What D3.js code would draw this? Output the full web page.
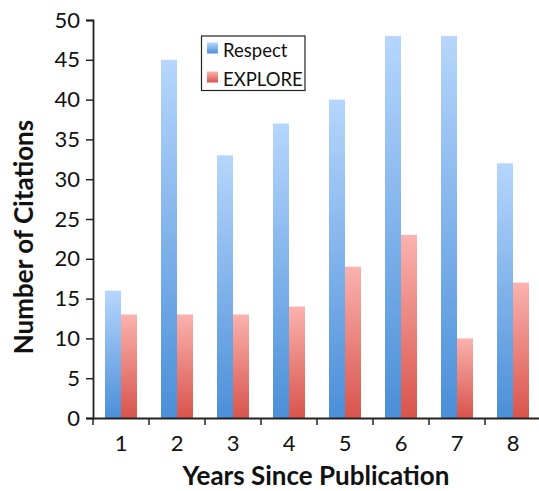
<!DOCTYPE html>
<html><head><meta charset="utf-8">
<script src="https://cdn.jsdelivr.net/npm/d3@7"></script>
<style>body{margin:0;background:#fff}svg{display:block}</style>
</head><body>
<script>
const categories = ["1","2","3","4","5","6","7","8"];
const seriesNames = ["Respect","EXPLORE"];
const respect = [16,45,33,37,40,48,48,32];
const explore = [13,13,13,14,19,23,10,17];
const yTicks = [0,5,10,15,20,25,30,35,40,45,50];

const W=539,H=491;
const m={left:93,right:-2,top:20,bottom:73};
const svg=d3.select("body").append("svg").attr("width",W).attr("height",H);
const defs=svg.append("defs");
const grads=[["gBlue","#b6d6fd","#4b8fd8"],["gRed","#fbb2ae","#d8544c"]];
grads.forEach(([id,c1,c2])=>{
  const g=defs.append("linearGradient").attr("id",id).attr("x1",0).attr("y1",0).attr("x2",0).attr("y2",1);
  g.append("stop").attr("offset","0%").attr("stop-color",c1);
  g.append("stop").attr("offset","100%").attr("stop-color",c2);
});
const x=d3.scaleBand().domain(categories).range([m.left,W-m.right]).paddingInner(0).paddingOuter(0);
const y=d3.scaleLinear().domain([0,50]).range([H-m.bottom,m.top]);
const inner=d3.scaleBand().domain(seriesNames).range([0,x.bandwidth()]).paddingInner(0).paddingOuter(0.75);
const data=categories.map((c,i)=>({c,vals:[respect[i],explore[i]]}));
const fills=["url(#gBlue)","url(#gRed)"];
const gBars=svg.append("g");
data.forEach(d=>{
  d.vals.forEach((v,j)=>{
    gBars.append("rect")
      .attr("x",x(d.c)+inner(seriesNames[j]))
      .attr("width",inner.bandwidth())
      .attr("y",y(v)).attr("height",y(0)-y(v))
      .attr("fill",fills[j]);
  });
});
const font="Lato, 'Open Sans', sans-serif";
// y axis
const ya=svg.append("g").attr("transform",`translate(${m.left},0)`)
  .call(d3.axisLeft(y).tickValues(yTicks).tickSize(7).tickPadding(6));
ya.select(".domain").attr("stroke","#222").attr("stroke-width",1.8);
ya.selectAll(".tick line").attr("stroke","#222").attr("stroke-width",1.5);
ya.selectAll("text").attr("font-family",font).attr("font-size",22).attr("fill","#111");
// x axis
const xa=svg.append("g").attr("transform",`translate(0,${H-m.bottom})`)
  .call(d3.axisBottom(x).tickSize(0).tickPadding(17));
xa.select(".domain").attr("stroke","#222").attr("stroke-width",1.8);
xa.selectAll("text").attr("font-family",font).attr("font-size",22).attr("fill","#111");
const bounds=categories.map(c=>x(c)).concat([x(categories[categories.length-1])+x.bandwidth()]);
xa.selectAll(".bt").data(bounds).enter().append("line")
  .attr("x1",d=>d).attr("x2",d=>d).attr("y1",0).attr("y2",7)
  .attr("stroke","#222").attr("stroke-width",1.5);
// titles
svg.append("text").attr("x",316).attr("y",485)
  .attr("text-anchor","middle").attr("font-family",font).attr("font-weight","bold")
  .attr("font-size",26).attr("fill","#111").text("Years Since Publication");
svg.append("text").attr("transform",`translate(33,237) rotate(-90)`)
  .attr("text-anchor","middle").attr("font-family",font).attr("font-weight","bold")
  .attr("font-size",26).attr("fill","#111").text("Number of Citations");
// legend
const lg=svg.append("g");
lg.append("rect").attr("x",201.5).attr("y",36).attr("width",103.5).attr("height",54.5)
  .attr("fill","#fff").attr("stroke","#222").attr("stroke-width",1.2);
seriesNames.forEach((n,i)=>{
  lg.append("rect").attr("x",207).attr("y",42.5+i*29).attr("width",11).attr("height",11).attr("fill",fills[i]);
  lg.append("text").attr("x",223).attr("y",56.5+i*29).attr("font-family",font)
    .attr("font-size",18.5).attr("fill","#111").text(n);
});
</script>
</body></html>
